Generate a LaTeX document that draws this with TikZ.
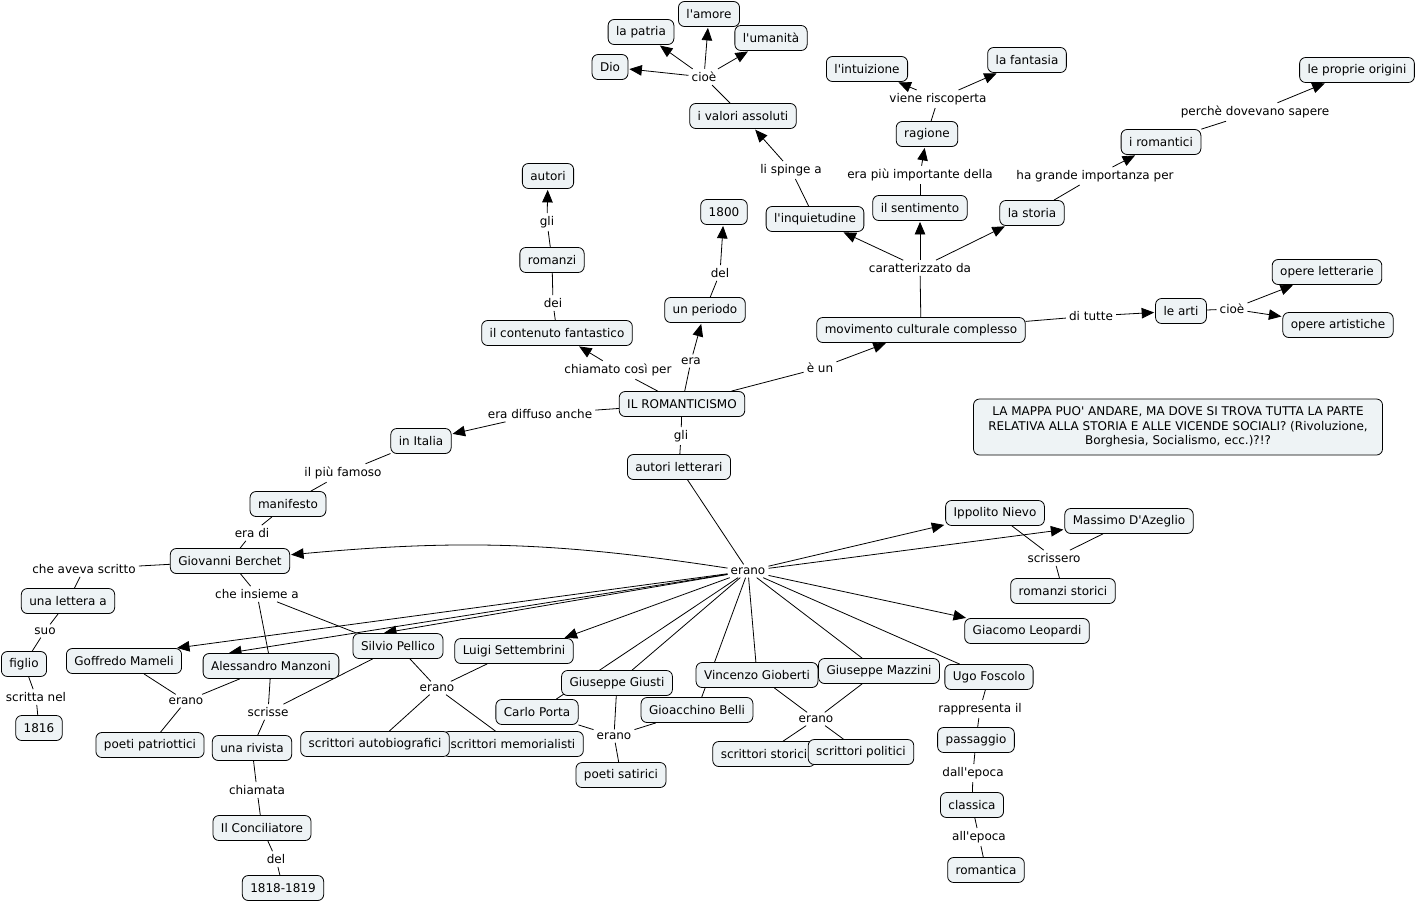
\documentclass[tikz,border=0pt]{standalone}
\usepackage{fontspec}
\setmainfont{DejaVu Sans}[Ligatures=TeXOff]
\usetikzlibrary{arrows.meta}
\pgfdeclarelayer{paper}
\pgfdeclarelayer{background}
\pgfsetlayers{paper,background,main}
\definecolor{boxfill}{RGB}{238,243,245}
\newcommand\mapfs{\fontsize{12}{14.5}\selectfont}
\tikzset{
  concept/.style={draw=black, line width=0.8pt, fill=boxfill, rounded corners=6pt,
    inner xsep=8pt, inner ysep=3pt, minimum height=25pt, font=\mapfs},
  lab/.style={inner sep=3pt, font=\mapfs},
  con/.style={draw=black, line width=0.8pt},
  toarrow/.style={-{Triangle[length=12.5pt,width=10.5pt]}, shorten >=1pt}
}
\begin{document}
\begin{tikzpicture}[x=1pt,y=-1pt]
\useasboundingbox (0,0) rectangle (1418,903);
\begin{pgfonlayer}{paper}
\fill[white] (0,0) rectangle (1418,903);
\end{pgfonlayer}
% concepts
\node[concept] (amore) at (709,14) {l'amore};
\node[concept] (patria) at (641,32) {la patria};
\node[concept] (umanita) at (771,38) {l'umanità};
\node[concept] (dio) at (610,67) {Dio};
\node[concept] (valori) at (743,116) {i valori assoluti};
\node[concept] (intuizione) at (867,69) {l'intuizione};
\node[concept] (fantasia) at (1027,60) {la fantasia};
\node[concept] (origini) at (1357,70) {le proprie origini};
\node[concept] (ragione) at (927,134) {ragione};
\node[concept] (romantici) at (1161,142) {i romantici};
\node[concept] (autori) at (548,176) {autori};
\node[concept] (n1800) at (724,212) {1800};
\node[concept] (inquietudine) at (815,219) {l'inquietudine};
\node[concept] (sentimento) at (920,208) {il sentimento};
\node[concept] (storia) at (1032,213) {la storia};
\node[concept] (romanzi) at (552,260) {romanzi};
\node[concept] (operelett) at (1327,272) {opere letterarie};
\node[concept] (periodo) at (705,310) {un periodo};
\node[concept] (contenuto) at (557,333) {il contenuto fantastico};
\node[concept] (movimento) at (921,330) {movimento culturale complesso};
\node[concept] (arti) at (1181,311) {le arti};
\node[concept] (opereart) at (1338,325) {opere artistiche};
\node[concept] (rom) at (682,404) {IL ROMANTICISMO};
\node[concept, align=center, minimum width=409pt, minimum height=56pt] (nota) at (1178,427)
  {LA MAPPA PUO' ANDARE, MA DOVE SI TROVA TUTTA LA PARTE\\RELATIVA ALLA STORIA E ALLE VICENDE SOCIALI? (Rivoluzione,\\Borghesia, Socialismo, ecc.)?!?};
\node[concept] (italia) at (421,441) {in Italia};
\node[concept] (autlett) at (679,467) {autori letterari};
\node[concept] (manifesto) at (288,504) {manifesto};
\node[concept] (nievo) at (995,513) {Ippolito Nievo};
\node[concept] (azeglio) at (1129,521) {Massimo D'Azeglio};
\node[concept] (berchet) at (230,561) {Giovanni Berchet};
\node[concept] (romstor) at (1063,591) {romanzi storici};
\node[concept] (lettera) at (68,601) {una lettera a};
\node[concept] (leopardi) at (1027,631) {Giacomo Leopardi};
\node[concept] (mameli) at (124,661) {Goffredo Mameli};
\node[concept] (manzoni) at (271,666) {Alessandro Manzoni};
\node[concept] (pellico) at (398,646) {Silvio Pellico};
\node[concept] (settembrini) at (514,651) {Luigi Settembrini};
\node[concept] (figlio) at (24,664) {figlio};
\node[concept] (porta) at (537,712) {Carlo Porta};
\node[concept] (giusti) at (617,683) {Giuseppe Giusti};
\node[concept] (belli) at (697,710) {Gioacchino Belli};
\node[concept] (gioberti) at (757,675) {Vincenzo Gioberti};
\node[concept] (mazzini) at (879,671) {Giuseppe Mazzini};
\node[concept] (foscolo) at (989,677) {Ugo Foscolo};
\node[concept] (n1816) at (39,728) {1816};
\node[concept] (patriottici) at (150,745) {poeti patriottici};
\node[concept] (rivista) at (252,748) {una rivista};
\node[concept] (memorialisti) at (513,744) {scrittori memorialisti};
\node[concept] (autobiografici) at (375,744) {scrittori autobiografici};
\node[concept] (satirici) at (621,775) {poeti satirici};
\node[concept] (storici) at (764,754) {scrittori storici};
\node[concept] (politici) at (861,752) {scrittori politici};
\node[concept] (passaggio) at (976,740) {passaggio};
\node[concept] (conciliatore) at (262,828) {Il Conciliatore};
\node[concept] (classica) at (972,805) {classica};
\node[concept] (n1818) at (283,888) {1818-1819};
\node[concept] (romantica) at (986,870) {romantica};
% linking phrases
\node[lab] (cioe1) at (704,77) {cioè};
\node[lab] (viene) at (938,99) {viene riscoperta};
\node[lab] (perche) at (1255,112) {perchè dovevano sapere};
\node[lab] (spinge) at (791,170) {li spinge a};
\node[lab] (piuimp) at (920,175) {era più importante della};
\node[lab] (grande) at (1095,176) {ha grande importanza per};
\node[lab] (gli1) at (547,222) {gli};
\node[lab] (del1) at (720,273) {del};
\node[lab] (dei) at (553,303) {dei};
\node[lab] (caratt) at (920,268) {caratterizzato da};
\node[lab] (ditutte) at (1091,316) {di tutte};
\node[lab] (cioe2) at (1232,309) {cioè};
\node[lab] (era) at (691,361) {era};
\node[lab] (chiamato) at (618,370) {chiamato così per};
\node[lab] (eun) at (820,368) {è un};
\node[lab] (diffuso) at (540,414) {era diffuso anche};
\node[lab] (gli2) at (681,436) {gli};
\node[lab] (famoso) at (343,473) {il più famoso};
\node[lab] (eradi) at (252,533) {era di};
\node[lab] (erano) at (748,571) {erano};
\node[lab] (scrissero) at (1054,558) {scrissero};
\node[lab] (aveva) at (84,569) {che aveva scritto};
\node[lab] (insieme) at (257,594) {che insieme a};
\node[lab] (suo) at (45,631) {suo};
\node[lab] (erano1) at (186,701) {erano};
\node[lab] (scrisse) at (268,712) {scrisse};
\node[lab] (scritta) at (36,697) {scritta nel};
\node[lab] (erano2) at (437,688) {erano};
\node[lab] (erano3) at (614,736) {erano};
\node[lab] (erano4) at (816,719) {erano};
\node[lab] (rappr) at (980,709) {rappresenta il};
\node[lab] (chiamata) at (257,790) {chiamata};
\node[lab] (dallepoca) at (973,773) {dall'epoca};
\node[lab] (allepoca) at (979,837) {all'epoca};
\node[lab] (del2) at (276,859) {del};
% connectors
\begin{pgfonlayer}{background}
\draw[con] (valori) -- (cioe1);
\draw[con,toarrow] (cioe1) -- (dio);
\draw[con,toarrow] (cioe1) -- (patria);
\draw[con,toarrow] (cioe1) -- (amore);
\draw[con,toarrow] (cioe1) -- (umanita);
\draw[con] (inquietudine) -- (spinge);
\draw[con,toarrow] (spinge) -- (valori);
\draw[con] (ragione) -- (viene);
\draw[con,toarrow] (viene) -- (intuizione);
\draw[con,toarrow] (viene) -- (fantasia);
\draw[con] (sentimento) -- (piuimp);
\draw[con,toarrow] (piuimp) -- (ragione);
\draw[con] (storia) -- (grande);
\draw[con,toarrow] (grande) -- (romantici);
\draw[con] (romantici) -- (perche);
\draw[con,toarrow] (perche) -- (origini);
\draw[con] (movimento) -- (caratt);
\draw[con,toarrow] (caratt) -- (inquietudine);
\draw[con,toarrow] (caratt) -- (sentimento);
\draw[con,toarrow] (caratt) -- (storia);
\draw[con] (movimento) -- (ditutte);
\draw[con,toarrow] (ditutte) -- (arti);
\draw[con] (arti) -- (cioe2);
\draw[con,toarrow] (cioe2) -- (operelett);
\draw[con,toarrow] (cioe2) -- (opereart);
\draw[con] (rom) -- (eun);
\draw[con,toarrow] (eun) -- (movimento);
\draw[con] (rom) -- (era);
\draw[con,toarrow] (era) -- (periodo);
\draw[con] (periodo) -- (del1);
\draw[con,toarrow] (del1) -- (n1800);
\draw[con] (rom) -- (chiamato);
\draw[con,toarrow] (chiamato) -- (contenuto);
\draw[con] (contenuto) -- (dei);
\draw[con] (dei) -- (romanzi);
\draw[con] (romanzi) -- (gli1);
\draw[con,toarrow] (gli1) -- (autori);
\draw[con] (rom) -- (diffuso);
\draw[con,toarrow] (diffuso) -- (italia);
\draw[con] (italia) -- (famoso);
\draw[con] (famoso) -- (manifesto);
\draw[con] (manifesto) -- (eradi);
\draw[con] (eradi) -- (berchet);
\draw[con] (rom) -- (gli2);
\draw[con] (gli2) -- (autlett);
\draw[con] (autlett) -- (erano);
\draw[con,toarrow] (erano) -- (nievo);
\draw[con,toarrow] (erano) -- (azeglio);
\draw[con,toarrow] (erano) -- (leopardi);
\draw[con,toarrow] (erano) to[bend right=7] (berchet);
\draw[con,toarrow] (erano) -- ([xshift=-6pt]mameli.north east);
\draw[con,toarrow] (erano) -- ([xshift=-43pt]manzoni.north);
\draw[con,toarrow] (erano) -- ([xshift=-15pt]pellico.north);
\draw[con,toarrow] (erano) -- ([xshift=-10pt]settembrini.north east);
\draw[con] (erano) -- (giusti);
\draw[con] (erano) -- (porta);
\draw[con] (erano) -- (belli);
\draw[con] (erano) -- (gioberti);
\draw[con] (erano) -- (mazzini);
\draw[con] (erano) -- (foscolo);
\draw[con] (nievo) -- (scrissero);
\draw[con] (azeglio) -- (scrissero);
\draw[con] (scrissero) -- (romstor);
\draw[con] (berchet) -- (aveva);
\draw[con] (aveva) -- (lettera);
\draw[con] (lettera) -- (suo);
\draw[con] (suo) -- (figlio);
\draw[con] (figlio) -- (scritta);
\draw[con] (scritta) -- (n1816);
\draw[con] (berchet) -- (insieme);
\draw[con] (insieme) -- (manzoni);
\draw[con] (insieme) -- ([xshift=4pt]pellico.north west);
\draw[con] (mameli) -- (erano1);
\draw[con] (manzoni) -- (erano1);
\draw[con] (erano1) -- (patriottici);
\draw[con] (manzoni) -- (scrisse);
\draw[con] (pellico) -- (scrisse);
\draw[con] (scrisse) -- (rivista);
\draw[con] (rivista) -- (chiamata);
\draw[con] (chiamata) -- (conciliatore);
\draw[con] (conciliatore) -- (del2);
\draw[con] (del2) -- (n1818);
\draw[con] (pellico) -- (erano2);
\draw[con] (settembrini) -- (erano2);
\draw[con] (erano2) -- (autobiografici);
\draw[con] (erano2) -- (memorialisti);
\draw[con] (giusti) -- (erano3);
\draw[con] (porta) -- (erano3);
\draw[con] (belli) -- (erano3);
\draw[con] (erano3) -- (satirici);
\draw[con] (gioberti) -- (erano4);
\draw[con] (mazzini) -- (erano4);
\draw[con] (erano4) -- (storici);
\draw[con] (erano4) -- (politici);
\draw[con] (foscolo) -- (rappr);
\draw[con] (rappr) -- (passaggio);
\draw[con] (passaggio) -- (dallepoca);
\draw[con] (dallepoca) -- (classica);
\draw[con] (classica) -- (allepoca);
\draw[con] (allepoca) -- (romantica);
\end{pgfonlayer}
\end{tikzpicture}
\end{document}
